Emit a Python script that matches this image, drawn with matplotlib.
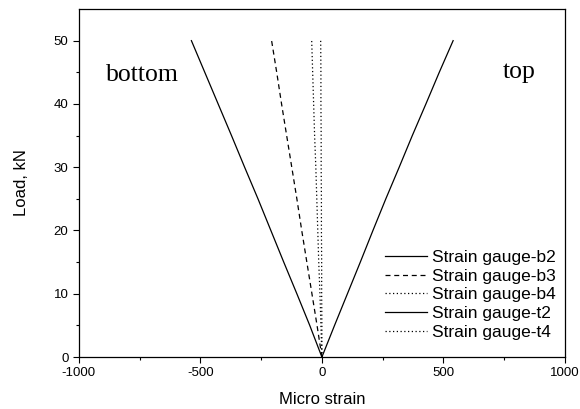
import matplotlib
matplotlib.use("Agg")
import matplotlib.pyplot as plt

# load steps (kN) and micro strain readings for each gauge
load = [0, 5, 10, 15, 20, 25, 30, 35, 40, 45, 50]
b2 = [0, -50, -103, -157, -210, -263, -318, -372, -427, -482, -537]
b3 = [0, -20, -41, -62, -83, -103, -124, -145, -166, -186, -207]
b4 = [0, -4, -8, -13, -17, -21, -25, -30, -34, -38, -42]
t2 = [0, 52, 105, 158, 210, 263, 318, 372, 428, 483, 540]
t4 = [0, 0, -1, -1, -2, -2, -3, -3, -4, -4, -5]

labels = ["Strain gauge-b2", "Strain gauge-b3", "Strain gauge-b4",
          "Strain gauge-t2", "Strain gauge-t4"]

plt.rcParams['font.family'] = ['Liberation Sans', 'DejaVu Sans']
plt.rcParams['axes.unicode_minus'] = False

fig = plt.figure(figsize=(5.8, 4.09), dpi=100)
ax = fig.add_axes([0.136, 0.127, 0.838, 0.851])

lw = 0.9
ax.plot(b2, load, color='k', lw=lw, ls='-', label=labels[0])
ax.plot(b3, load, color='k', lw=lw, ls=(0, (4, 3)), label=labels[1])
ax.plot(b4, load, color='k', lw=lw, ls=(0, (1, 2)), label=labels[2])
ax.plot(t2, load, color='k', lw=lw, ls='-', label=labels[3])
ax.plot(t4, load, color='k', lw=lw, ls=(0, (1, 2)), label=labels[4])

ax.set_xlim(-1000, 1000)
ax.set_ylim(0, 55)
ax.set_xticks([-1000, -500, 0, 500, 1000])
ax.set_xticks([-750, -250, 250, 750], minor=True)
ax.set_yticks([0, 10, 20, 30, 40, 50])
ax.set_yticks([5, 15, 25, 35, 45], minor=True)
ax.tick_params(which='major', direction='out', length=4, width=0.8, labelsize=9.5)
ax.tick_params(which='minor', direction='out', length=2.5, width=0.8)
for s in ax.spines.values():
    s.set_linewidth(0.9)

ax.set_xlabel("Micro strain", fontsize=12, labelpad=9)
ax.set_ylabel("Load, kN", fontsize=12, labelpad=18)

ax.text(-890, 44.5, "bottom", family='Liberation Serif', fontsize=18.5, va='center')
ax.text(745, 45, "top", family='Liberation Serif', fontsize=18.5, va='center')

ax.legend(loc='lower right', bbox_to_anchor=(0.995, 0.03), frameon=False,
          fontsize=12.5, handlelength=2.4, handletextpad=0.3,
          labelspacing=0.2, borderaxespad=0)

fig.savefig("out.png", dpi=100)
